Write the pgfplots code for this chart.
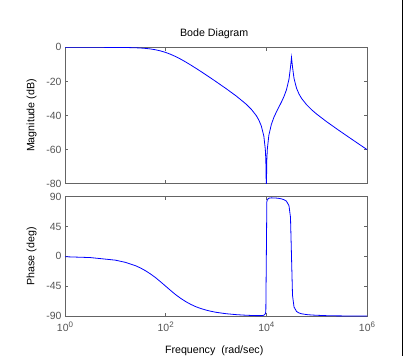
\documentclass[border=0pt]{standalone}
\usepackage{fontspec}
\setmainfont{Liberation Sans}
\usepackage{pgfplots}
\pgfplotsset{compat=1.18}
\definecolor{framegray}{RGB}{100,100,100}
\definecolor{tickgray}{RGB}{85,85,85}
\newcommand{\tp}[1]{10\raisebox{4.3bp}{\fontsize{8}{8}\selectfont #1}}
\pgfplotsset{bode/.style={
  scale only axis, width=302bp,
  xmin=1, xmax=1e6,
  xtick={1,100,10000,1000000},
  minor xtick={},
  tick align=inside, tick pos=both,
  major tick length=3.5bp,
  axis line style={draw=framegray, line width=0.8bp},
  every tick/.style={draw=framegray, line width=0.8bp},
  tick label style={font=\fontsize{10.5}{12}\selectfont, text=tickgray},
  label style={font=\fontsize{10.7}{12}\selectfont, text=black},
  ylabel style={at={(axis description cs:-0.1103,0.5)}, anchor=center},
  every axis title shift=0pt,
  clip=true,
}}
\begin{document}
\begin{tikzpicture}[x=1bp,y=1bp]
\useasboundingbox (0,0) rectangle (406,356);
\fill[white] (0,0) rectangle (406,356);
\draw[black, line width=1.2bp] (402.5,0) -- (402.5,356);

\begin{semilogxaxis}[bode,
  at={(65bp,172.3bp)}, anchor=south west, height=136.4bp,
  ymin=-80, ymax=0,
  ytick={-80,-60,-40,-20,0},
  yticklabels={-80,-60,-40,-20,0},
  xticklabels={},
  ylabel={Magnitude (dB)},
  title={Bode Diagram},
  title style={at={(axis description cs:0.494,1.0975)}, anchor=center, font=\fontsize{10.7}{12}\selectfont},
]
\addplot[blue, line width=0.8bp] coordinates {
(1,0.00) (3.162,-0.004) (10,-0.043) (15.85,-0.11) (25.12,-0.27) (31.62,-0.41)
(39.81,-0.64) (50.12,-0.97) (63.10,-1.46) (79.43,-2.13) (100,-3.01) (125.9,-4.13)
(158.5,-5.46) (199.5,-6.97) (251.2,-8.65) (316.2,-10.42) (398.1,-12.28) (501.2,-14.19)
(631.0,-16.14) (794.3,-18.12) (1000,-20.12) (1585,-24.22) (2512,-28.52) (3981,-33.36)
(5012,-36.29) (6310,-40.05) (7079,-42.6) (7943,-46.1) (8913,-52.0) (9550,-59.9)
(9772,-65.9) (10000,-83.5) (10233,-65.8) (10471,-59.7) (11220,-51.6) (12589,-45.2)
(14125,-41.1) (15849,-37.9) (17783,-35.0) (19953,-32.1) (22387,-28.9) (25119,-24.9)
(28184,-18.7) (30200,-11.7) (31623,-5.9) (33113,-11.5) (35481,-18.2) (39811,-24.0)
(44668,-27.43) (50119,-29.96) (63096,-33.7) (79433,-36.64) (100000,-39.17)
(158489,-43.68) (251189,-47.87) (398107,-51.95) (630957,-55.98) (1000000,-59.99)
};
\end{semilogxaxis}

\begin{semilogxaxis}[bode,
  at={(65bp,39.3bp)}, anchor=south west, height=120.7bp,
  ymin=-91, ymax=91,
  ytick={-90,-45,0,45,90},
  yticklabels={-90,-45,0,45,90},
  xticklabels={\tp{0},\tp{2},\tp{4},\tp{6}},
  xticklabel style={yshift=-1.5bp},
  ylabel={Phase (deg)},
  xlabel={Frequency\ \ (rad/sec)},
  xlabel style={at={(axis description cs:0.494,-0.2817)}, anchor=center},
]
\addplot[blue, line width=0.8bp] coordinates {
(1,-0.57) (3.162,-1.81) (10,-5.71) (15.85,-9.04) (25.12,-14.04) (31.62,-17.55)
(39.81,-21.70) (50.12,-26.62) (63.10,-32.13) (79.43,-38.46) (100,-45.00) (125.9,-51.54)
(158.5,-57.87) (199.5,-63.38) (251.2,-68.30) (316.2,-72.45) (398.1,-75.96) (501.2,-78.72)
(631.0,-80.96) (794.3,-82.82) (1000,-84.36) (1585,-86.49) (2512,-87.89) (3981,-88.81)
(6310,-89.40) (7943,-89.40) (8913,-88.85) (9550,-86.74) (9772,-83.08) (10000,-0.56)
(10233,81.96) (10471,85.63) (11220,87.72) (12589,88.20) (15849,87.86) (17783,87.41)
(19953,86.70) (22387,85.51) (25119,83.20) (28184,76.42) (30200,58.76) (31623,0.06)
(33113,-58.67) (35481,-76.32) (39811,-83.09) (44668,-85.41) (50119,-86.60) (63096,-87.81)
(79433,-88.45) (100000,-88.84) (158489,-89.45) (251189,-89.73) (398107,-89.86)
(630957,-89.93) (1000000,-89.96)
};
\end{semilogxaxis}
\end{tikzpicture}
\end{document}
